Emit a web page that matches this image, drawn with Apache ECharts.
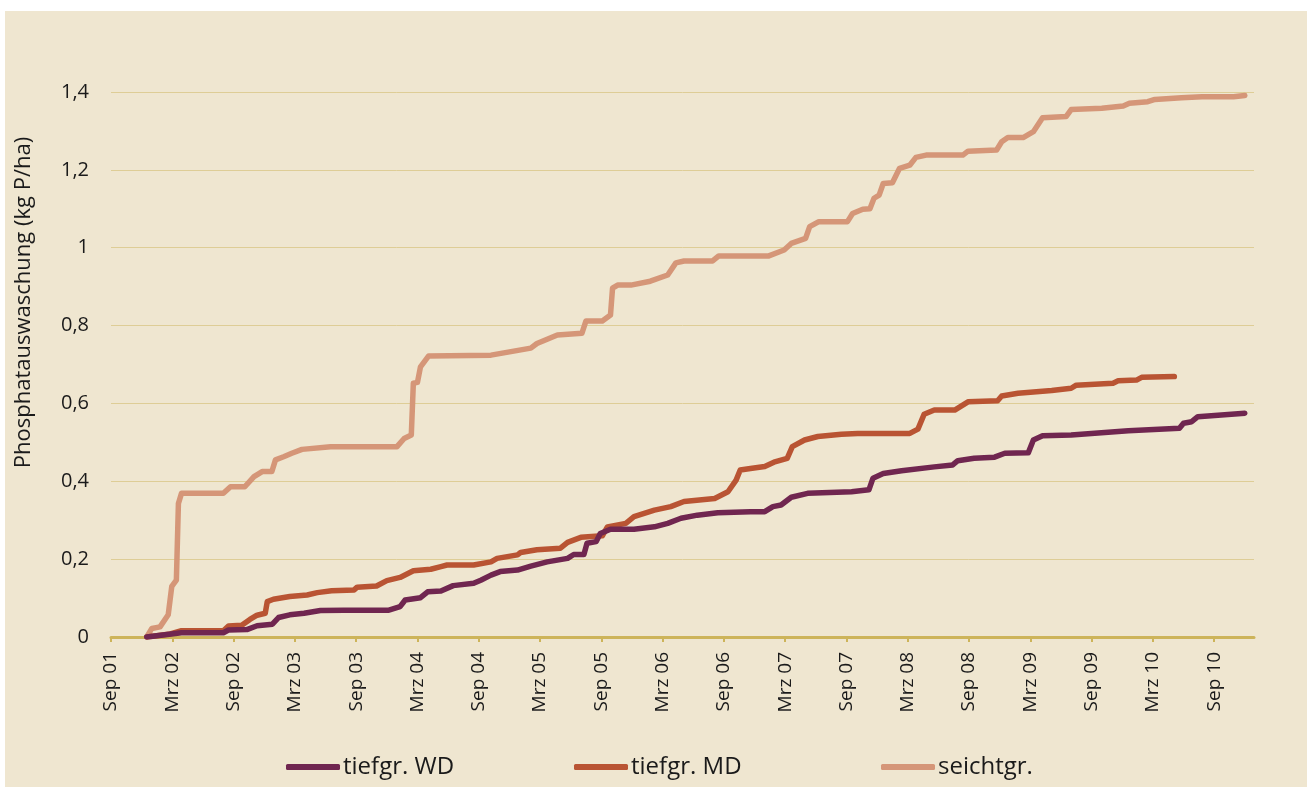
<!DOCTYPE html>
<html>
<head>
<meta charset="utf-8">
<script src="https://cdn.jsdelivr.net/npm/echarts@6/dist/echarts.min.js"></script>
<style>
html,body{margin:0;padding:0;background:#ffffff;}
#chart{position:absolute;left:5px;top:11px;width:1302px;height:776px;background:#EFE6D0;}
</style>
</head>
<body>
<div id="chart"></div>
<script>
// x values: months since Sep 2001
var tickMonths = [0,6,12,18,24,30,36,42,48,54,60,66,72,78,84,90,96,102,108];
var tickLabels = ['Sep 01','Mrz 02','Sep 02','Mrz 03','Sep 03','Mrz 04','Sep 04','Mrz 05','Sep 05','Mrz 06','Sep 06','Mrz 07','Sep 07','Mrz 08','Sep 08','Mrz 09','Sep 09','Mrz 10','Sep 10'];
var seriesNames = ['tiefgr. WD','tiefgr. MD','seichtgr.'];

var wdData = [[3.5,0],[6.9,0.011],[11.0,0.011],[11.5,0.018],[13.3,0.019],[14.3,0.029],[15.8,0.033],[16.4,0.050],[17.5,0.057],[18.9,0.061],[20.5,0.068],[22.8,0.069],[27.2,0.069],[28.3,0.078],[28.8,0.095],[30.3,0.101],[31.0,0.116],[32.3,0.118],[33.5,0.132],[35.5,0.138],[36.2,0.146],[37.2,0.159],[38.1,0.168],[39.8,0.172],[41.1,0.182],[42.7,0.193],[44.7,0.202],[45.3,0.212],[46.3,0.212],[46.6,0.241],[47.5,0.245],[47.9,0.266],[48.9,0.277],[51.2,0.277],[53.2,0.283],[54.5,0.292],[55.8,0.305],[57.4,0.313],[59.4,0.319],[62.6,0.322],[64.0,0.322],[64.8,0.335],[65.6,0.339],[66.6,0.359],[68.2,0.369],[72.5,0.373],[74.2,0.378],[74.6,0.408],[75.6,0.420],[77.4,0.427],[80.6,0.437],[82.4,0.442],[82.9,0.453],[84.5,0.459],[86.5,0.462],[87.5,0.472],[89.8,0.473],[90.3,0.506],[91.2,0.517],[94.0,0.519],[99.6,0.530],[104.6,0.536],[105.0,0.549],[105.8,0.553],[106.4,0.566],[111.0,0.575]];

var mdData = [[3.5,0],[5.8,0.008],[6.9,0.016],[11.0,0.016],[11.5,0.028],[12.8,0.030],[13.6,0.045],[14.3,0.056],[15.1,0.061],[15.3,0.091],[15.9,0.097],[17.5,0.104],[19.2,0.108],[20.2,0.114],[21.6,0.119],[23.8,0.121],[24.1,0.128],[26.0,0.131],[27.0,0.145],[28.3,0.153],[29.6,0.170],[31.3,0.174],[32.3,0.181],[32.9,0.185],[35.5,0.185],[37.2,0.193],[37.8,0.202],[39.8,0.211],[40.1,0.217],[41.7,0.224],[44.0,0.228],[44.7,0.243],[46.0,0.256],[48.1,0.260],[48.6,0.283],[50.4,0.292],[51.2,0.309],[53.2,0.326],[54.8,0.335],[56.1,0.348],[59.1,0.356],[60.4,0.373],[61.2,0.403],[61.6,0.429],[62.6,0.433],[64.0,0.438],[64.9,0.449],[66.2,0.459],[66.7,0.489],[67.9,0.506],[69.2,0.515],[71.5,0.521],[73.1,0.523],[78.2,0.523],[79.0,0.534],[79.6,0.572],[80.6,0.583],[82.6,0.583],[83.9,0.604],[86.8,0.607],[87.2,0.619],[88.8,0.626],[92.1,0.633],[94.0,0.639],[94.5,0.647],[98.1,0.652],[98.6,0.658],[100.4,0.660],[100.9,0.667],[104.1,0.669]];

var seichtData = [[3.5,0],[4.0,0.022],[4.8,0.026],[5.6,0.057],[5.95,0.130],[6.4,0.146],[6.6,0.343],[6.9,0.369],[11.0,0.369],[11.7,0.386],[13.1,0.386],[14.0,0.412],[14.8,0.425],[15.75,0.425],[16.1,0.455],[16.9,0.463],[17.7,0.472],[18.7,0.482],[21.5,0.489],[28.0,0.489],[28.7,0.510],[29.4,0.519],[29.6,0.652],[30.0,0.654],[30.3,0.694],[31.1,0.722],[37.2,0.724],[41.1,0.742],[41.7,0.754],[42.7,0.765],[43.7,0.776],[46.1,0.780],[46.5,0.812],[48.1,0.812],[48.9,0.827],[49.1,0.896],[49.6,0.904],[50.9,0.904],[52.8,0.914],[54.5,0.930],[55.3,0.961],[56.1,0.966],[58.9,0.966],[59.5,0.979],[64.4,0.979],[65.9,0.994],[66.6,1.011],[68.0,1.024],[68.4,1.054],[69.3,1.067],[72.1,1.067],[72.6,1.088],[73.6,1.099],[74.3,1.100],[74.7,1.127],[75.2,1.135],[75.6,1.165],[76.5,1.167],[77.2,1.204],[78.2,1.212],[78.8,1.232],[79.8,1.238],[83.4,1.238],[83.9,1.248],[86.7,1.251],[87.2,1.272],[87.8,1.283],[89.3,1.283],[90.3,1.298],[91.2,1.334],[93.5,1.337],[94.0,1.355],[97.0,1.358],[99.1,1.364],[99.7,1.371],[101.5,1.375],[102.2,1.381],[104.8,1.385],[106.8,1.388],[109.9,1.388],[111.0,1.391]];

var colors = ['#702650','#B95433','#D59678'];
var FONT = '"Open Sans", "Noto Sans", sans-serif';

var chart = echarts.init(document.getElementById('chart'), null, {renderer:'canvas'});

function mkLegend(name, left, color){
  return {
    data:[name], left:left, top:739, orient:'horizontal',
    icon:'roundRect', itemWidth:54, itemHeight:6, itemGap:0,
    textStyle:{fontFamily:FONT, fontSize:24, color:'#1a1a1a', padding:[0,0,0,-2]},
    itemStyle:{color:color}
  };
}

var option = {
  backgroundColor:'#EFE6D0',
  animation:false,
  textStyle:{fontFamily:FONT},
  grid:{left:106, top:81, width:1143, height:545, containLabel:false},
  legend:[mkLegend(seriesNames[0],276,colors[0]), mkLegend(seriesNames[1],564,colors[1]), mkLegend(seriesNames[2],871,colors[2])],
  xAxis:{
    type:'value', min:0, max:111.9,
    splitLine:{show:false},
    axisLine:{show:true, onZero:false, lineStyle:{color:'#CDB45A', width:3}},
    axisTick:{show:true, customValues:tickMonths, length:5, lineStyle:{color:'#CDB45A', width:2}},
    axisLabel:{
      customValues:tickMonths, rotate:90, margin:15,
      fontFamily:FONT, fontSize:19, color:'#1a1a1a',
      formatter:function(v){ var i = tickMonths.indexOf(Math.round(v)); return i>=0 ? tickLabels[i] : ''; }
    }
  },
  yAxis:{
    type:'value', min:0, max:1.4, interval:0.2,
    name:'Phosphatauswaschung (kg P/ha)', nameLocation:'middle', nameGap:76, nameRotate:90,
    nameTextStyle:{fontFamily:FONT, fontSize:22, color:'#1a1a1a', padding:[0,0,0,124]},
    axisLine:{show:false}, axisTick:{show:false},
    axisLabel:{margin:22, fontFamily:FONT, fontSize:20, color:'#1a1a1a',
      formatter:function(v){ return (Math.round(v*10)/10).toString().replace('.', ','); }},
    splitLine:{show:true, lineStyle:{color:'#DECD96', width:1}}
  },
  series:[
    {name:seriesNames[2], type:'line', data:seichtData, showSymbol:false, symbol:'none', z:2,
      lineStyle:{color:colors[2], width:5.5, cap:'round', join:'round'}, itemStyle:{color:colors[2]}},
    {name:seriesNames[1], type:'line', data:mdData, showSymbol:false, symbol:'none', z:3,
      lineStyle:{color:colors[1], width:5.5, cap:'round', join:'round'}, itemStyle:{color:colors[1]}},
    {name:seriesNames[0], type:'line', data:wdData, showSymbol:false, symbol:'none', z:4,
      lineStyle:{color:colors[0], width:5.5, cap:'round', join:'round'}, itemStyle:{color:colors[0]}}
  ]
};
chart.setOption(option);
</script>
</body>
</html>
